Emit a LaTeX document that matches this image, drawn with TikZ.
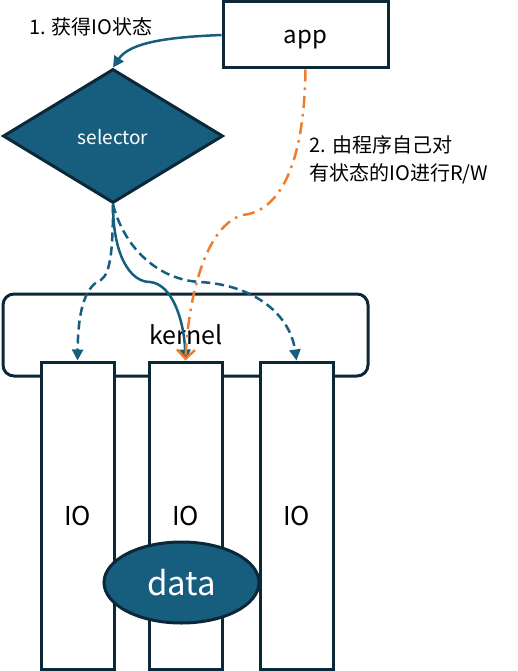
\documentclass[tikz,border=0pt]{standalone}
\usepackage{fontspec}
\setmainfont{Noto Sans CJK SC}
\usepackage{tikz}
\usetikzlibrary{shapes.geometric}
\usetikzlibrary{arrows.meta}

\definecolor{selblue}{RGB}{23,94,126}
\definecolor{edgedark}{RGB}{11,40,56}
\definecolor{rworange}{RGB}{237,125,49}

\tikzset{
  box/.style={draw=edgedark, line width=3pt, fill=white, inner sep=0pt},
  bluearr/.style={selblue, line width=2.5pt, -{Triangle[length=11pt,width=11pt]}},
  bluedash/.style={bluearr, dash pattern=on 9pt off 5pt},
  orangearr/.style={rworange, line width=2.5pt, dash pattern=on 12pt off 6pt on 2.5pt off 6pt,
    -{Straight Barb[length=9pt,width=18pt]}}
}

\begin{document}
\begin{tikzpicture}[x=1pt,y=1pt]
    \useasboundingbox (0,0) rectangle (518,-671);
    % nodes
    \node[box, minimum width=165, minimum height=66, text height=18pt, text depth=0pt,
          font=\fontsize{24}{28}\selectfont] (app) at (305.5,-35) {app};
    \node[diamond, draw=edgedark, line width=3pt, fill=selblue, text=white, inner sep=0pt,
          minimum width=220, minimum height=134, text height=17pt, text depth=0pt,
          font=\fontsize{19}{22}\selectfont] (sel) at (113,-136) {selector};
    \node[font=\fontsize{20}{28}\selectfont] (lab1) at (91,-27) {1. 获得IO状态};
    \node[anchor=west, align=left, font=\fontsize{20}{28}\selectfont] (lab2) at (306,-160) {2. 由程序自己对\\有状态的IO进行R/W};
    \node[box, rounded corners=11, minimum width=365, minimum height=82] (kern) at (185.5,-335) {};
    \node[font=\fontsize{25}{28}\selectfont] (kernlab) at (186,-335) {kernel};
    \node[box, minimum width=73, minimum height=307, font=\fontsize{26}{28}\selectfont] (IO1) at (77.5,-515.5) {IO};
    \node[box, minimum width=73, minimum height=307, font=\fontsize{26}{28}\selectfont] (IO2) at (185.5,-515.5) {IO};
    \node[box, minimum width=73, minimum height=307, font=\fontsize{26}{28}\selectfont] (IO3) at (296.5,-515.5) {IO};
    \node[ellipse, draw=edgedark, line width=3pt, fill=selblue, text=white, inner sep=0pt,
          minimum width=155, minimum height=81, font=\fontsize{33}{36}\selectfont] (data) at (181.5,-582.5) {data};
    % 1. selector asks for state
    \draw[bluearr] (app.west) .. controls (170,-37) and (130,-42) .. (sel.north);
    % selector watches every IO
    \draw[bluedash] (sel.south) .. controls (113,-265) and (108,-278) .. (97,-282)
        .. controls (82,-292) and (78,-320) .. (IO1.north);
    \draw[bluearr] (sel.south) .. controls (113,-255) and (130,-282) .. (150,-282)
        .. controls (172,-284) and (184,-320) .. (IO2.north);
    \draw[bluedash] (sel.south) .. controls (125,-250) and (160,-280) .. (200,-282)
        .. controls (255,-285) and (290,-315) .. (IO3.north);
    % 2. app does the read/write itself
    \draw[orangearr] (app.south) .. controls (304,-180) and (272,-212) .. (243,-215)
        .. controls (205,-225) and (188,-300) .. (IO2.north);
\end{tikzpicture}
\end{document}
